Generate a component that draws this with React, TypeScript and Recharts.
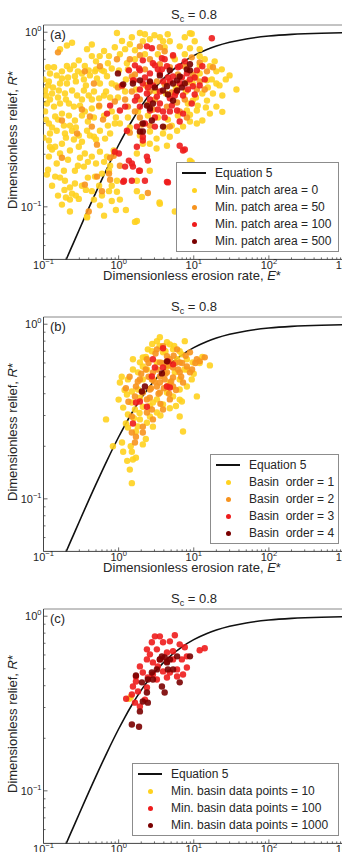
import { ScatterChart, Scatter, XAxis, YAxis } from 'recharts';

type Pt = [number, number]; // [E*, R*]

// Equation 5 (steady-state relief vs erosion rate), sampled along E*
const eqE = [0.15, 0.2, 0.25, 0.3, 0.5, 0.7, 1, 1.2, 1.5, 2, 3, 5, 7, 10, 15, 20, 30, 50, 100, 200, 300, 500, 1000];
const eqR = [0.0374, 0.0498, 0.062, 0.0742, 0.1214, 0.1657, 0.226, 0.262, 0.3102, 0.3774, 0.4765, 0.5968, 0.668, 0.7341, 0.7968, 0.8336, 0.8758, 0.9154, 0.9508, 0.972, 0.98, 0.987, 0.9928];

const xTicks = [0.1, 0.2, 0.3, 0.4, 0.5, 0.6, 0.7, 0.8, 0.9, 1, 2, 3, 4, 5, 6, 7, 8, 9, 10, 20, 30, 40, 50, 60, 70, 80, 90, 100, 200, 300, 400, 500, 600, 700, 800, 900, 1000];
const yTicks = [0.06, 0.07, 0.08, 0.09, 0.1, 0.2, 0.3, 0.4, 0.5, 0.6, 0.7, 0.8, 0.9, 1];

// (a) minimum patch area
const patchArea0: Pt[] = [
  [0.95, 0.99], [1.92, 0.99], [9.4, 0.98], [0.166, 0.8], [0.24, 0.87], [0.38, 0.8], [0.56, 0.73], [37, 0.47], [24, 0.35],
  [9.4, 0.18], [5.6, 0.094], [3.5, 0.106], [1.65, 0.082], [0.38, 0.087], [0.225, 0.11], [0.19, 0.125], [0.122, 0.22],
  [0.205, 0.84], [0.44, 0.85], [1.11, 0.89], [0.295, 0.69], [0.254, 0.646], [0.355, 0.64], [0.205, 0.64], [0.44, 0.73],
  [0.64, 0.78], [0.745, 0.73], [0.122, 0.58], [0.15, 0.566], [0.118, 0.523], [0.176, 0.544], [0.205, 0.509], [0.262, 0.56],
  [0.325, 0.58], [0.4, 0.605], [0.485, 0.597], [0.515, 0.544], [0.6, 0.605], [0.7, 0.56], [0.81, 0.62], [1.01, 0.605],
  [0.105, 0.464], [0.13, 0.446], [0.16, 0.464], [0.193, 0.446], [0.24, 0.464], [0.28, 0.434], [0.345, 0.464], [0.4, 0.434],
  [0.47, 0.458], [0.55, 0.418], [0.64, 0.434], [0.111, 0.391], [0.105, 0.352], [0.138, 0.375], [0.166, 0.391], [0.218, 0.391],
  [0.254, 0.375], [0.306, 0.38], [0.355, 0.352], [0.44, 0.366], [0.55, 0.375], [0.325, 0.333], [0.262, 0.312], [0.218, 0.333],
  [0.176, 0.342], [0.143, 0.329], [0.118, 0.3], [0.15, 0.273], [0.193, 0.263], [0.24, 0.273], [0.295, 0.256], [0.38, 0.273],
  [0.47, 0.252], [0.564, 0.273], [0.66, 0.246], [0.77, 0.263], [0.89, 0.3], [0.118, 0.24], [0.143, 0.221], [0.176, 0.23],
  [0.225, 0.21], [0.295, 0.221], [0.355, 0.202], [0.44, 0.194], [0.564, 0.207], [0.7, 0.194], [0.86, 0.21], [0.118, 0.194],
  [0.15, 0.177], [0.187, 0.161], [0.262, 0.161], [0.345, 0.17], [0.485, 0.149], [0.6, 0.155], [0.745, 0.161], [0.143, 0.149],
  [0.193, 0.141], [0.262, 0.136], [0.55, 0.132], [0.44, 0.123], [0.6, 0.116], [0.745, 0.123], [0.95, 0.141], [0.24, 0.119],
  [0.295, 0.111], [0.38, 0.088], [0.81, 0.108],
  [3.0, 0.961], [8.9, 0.987], [3.9, 0.888], [6.5, 0.83], [8.9, 0.81], [2.1, 0.888], [1.65, 0.788], [12, 0.728], [16.4, 0.638],
  [20, 0.597], [30, 0.566], [24, 0.434], [18, 0.446], [20, 0.375], [16.4, 0.342], [13, 0.312], [11, 0.3], [8.9, 0.308],
  [7.2, 0.288], [6, 0.273], [4.8, 0.252], [3.9, 0.263], [3.2, 0.246], [2.6, 0.23], [2.1, 0.23], [1.75, 0.202], [3.2, 0.216],
  [4.4, 0.224], [8.9, 0.184], [2.6, 0.161], [1.75, 0.141], [1.75, 0.123], [2.04, 0.114], [3.54, 0.104], [6.5, 0.088],
  [1.75, 0.083], [15, 0.406], [20, 0.509], [15, 0.53], [12, 0.581], [9.7, 0.509], [13, 0.446], [9.7, 0.406], [8.1, 0.356],
  [11, 0.356],
  [1.22, 0.8], [1.41, 0.853], [1.65, 0.7], [1.33, 0.613], [2.24, 0.748], [2.6, 0.911], [3.33, 0.748], [4.1, 0.82], [4.8, 0.888],
  [5.6, 0.7], [7.6, 0.748], [10.3, 0.888], [12, 0.8], [14, 0.7], [17.4, 0.537], [15.4, 0.483], [10.7, 0.423], [8.35, 0.391],
  [6.15, 0.333], [4.53, 0.316], [3.33, 0.325], [2.45, 0.333], [1.81, 0.352], [1.33, 0.325], [1.04, 0.3], [0.92, 0.325],
  [0.81, 0.352], [0.98, 0.423], [1.22, 0.458], [1.29, 0.664], [1.04, 0.748], [0.89, 0.82], [0.72, 0.664], [0.81, 0.509],
  [0.68, 0.458], [0.564, 0.509], [0.5, 0.681], [0.64, 0.597], [1.41, 0.285], [1.92, 0.256], [2.61, 0.27], [4.1, 0.285],
  [5.1, 0.292], [8.9, 0.337], [11.3, 0.38], [14.5, 0.371], [22, 0.496], [26.7, 0.537], [19, 0.681], [23.6, 0.613],
  [7.6, 0.936], [3.54, 0.936], [2.24, 0.974], [1.5, 0.936], [4.5, 0.974], [12, 0.646], [10.7, 0.551], [7.86, 0.458],
  [5.78, 0.483], [4.26, 0.446], [3.13, 0.458], [2.31, 0.496], [1.7, 0.47], [1.25, 0.537], [0.92, 0.496], [0.77, 0.423],
  [0.441, 0.412], [0.367, 0.496], [0.325, 0.412], [0.199, 0.412], [0.156, 0.423], [0.122, 0.412], [0.108, 0.434],
  [0.115, 0.496], [0.1, 0.537], [0.134, 0.483], [0.166, 0.509], [0.212, 0.551], [0.27, 0.523], [0.345, 0.537], [0.415, 0.566],
  [0.5, 0.613], [0.287, 0.597], [0.225, 0.613], [0.176, 0.597], [0.138, 0.63], [0.115, 0.63], [0.108, 0.316], [0.13, 0.285],
  [0.156, 0.316], [0.187, 0.292], [0.225, 0.292], [0.27, 0.285], [0.39, 0.308], [0.469, 0.325], [0.64, 0.333], [0.72, 0.292],
  [0.5, 0.243], [0.415, 0.256], [0.325, 0.236], [0.254, 0.243], [0.199, 0.249], [0.122, 0.263], [0.1, 0.249], [0.13, 0.213],
  [0.166, 0.202], [0.212, 0.186], [0.306, 0.191], [0.39, 0.181], [0.5, 0.177], [0.64, 0.181], [0.77, 0.172], [0.287, 0.172],
  [0.39, 0.147], [0.325, 0.132], [0.225, 0.129], [0.166, 0.147], [0.115, 0.163], [0.13, 0.132], [0.156, 0.116], [0.199, 0.113],
  [0.27, 0.116], [0.469, 0.11], [0.564, 0.102], [0.367, 0.125], [0.81, 0.132], [0.95, 0.122], [1.04, 0.11], [1.25, 0.096],
  [0.92, 0.096], [0.64, 0.089], [0.111, 0.153], [0.176, 0.103], [0.225, 0.094],
];
const patchArea50: Pt[] = [
  [0.89, 0.401], [1.11, 0.49], [1.5, 0.558], [0.515, 0.227], [0.77, 0.191], [2.86, 0.361], [1.92, 0.325], [5.12, 0.452],
  [7.6, 0.638], [9.7, 0.573], [11, 0.47], [5.3, 0.728], [3.54, 0.82], [1.92, 0.83], [2.61, 0.7], [3.23, 0.523], [1.92, 0.412],
  [1.33, 0.375], [1.5, 0.458], [2.45, 0.386], [4.4, 0.375], [0.95, 0.7], [6.0, 0.396], [8.1, 0.516], [15, 0.597], [18, 0.63],
  [12, 0.523], [12, 0.672], [4.8, 0.288], [8.1, 0.325], [1.41, 0.266], [0.564, 0.638], [0.325, 0.361], [0.415, 0.329],
  [0.62, 0.316], [0.176, 0.191], [0.156, 0.767], [0.77, 0.143], [0.515, 0.149], [0.355, 0.134], [2.45, 0.12], [0.355, 0.597],
  [0.469, 0.509], [0.55, 0.38], [0.44, 0.288], [0.86, 0.196], [1.04, 0.172], [0.745, 0.155], [0.28, 0.263], [0.176, 0.312],
  [0.6, 0.123], [0.4, 0.094], [2.24, 0.613], [3.54, 0.655], [6.15, 0.573], [4.1, 0.503], [2.61, 0.458], [1.65, 0.573],
  [7.6, 0.412], [4.81, 0.63], [3.04, 0.412], [2.04, 0.296], [1.41, 0.7], [1.92, 0.738], [4.1, 0.778], [9.4, 0.718],
  [14, 0.47], [6.5, 0.352], [1.65, 0.352], [1.22, 0.412], [2.61, 0.292], [0.98, 0.483],
];
const patchArea100: Pt[] = [
  [17.4, 0.924], [2.38, 0.83], [2.77, 0.81], [5.3, 0.738], [3.77, 0.709], [2.1, 0.69], [2.86, 0.664], [4.4, 0.638], [6.5, 0.638],
  [1.92, 0.605], [2.61, 0.581], [3.54, 0.581], [5.3, 0.558], [8.1, 0.581], [11, 0.605], [13, 0.638], [1.55, 0.53], [2.1, 0.509],
  [2.86, 0.496], [3.9, 0.523], [6.5, 0.509], [9.7, 0.49], [12, 0.496], [1.75, 0.428], [2.38, 0.446], [3.23, 0.428],
  [4.81, 0.418], [7.2, 0.434], [1.92, 0.375], [2.61, 0.356], [3.9, 0.352], [6.0, 0.356], [7.2, 0.342], [6.5, 0.308],
  [2.24, 0.3], [3.04, 0.288], [1.75, 0.288], [2.1, 0.24], [1.75, 0.221], [2.45, 0.184], [2.38, 0.194], [1.92, 0.161],
  [2.24, 0.141], [4.4, 0.139], [6.5, 0.224], [7.2, 0.21], [1.5, 0.177], [1.11, 0.496], [0.77, 0.38],
  [0.7, 0.342], [1.04, 0.356], [1.37, 0.184], [1.22, 0.17], [1.18, 0.141], [1.5, 0.141], [1.87, 0.161], [1.22, 0.375],
  [1.65, 0.406], [1.6, 0.53], [1.37, 0.605], [1.87, 0.62], [1.29, 0.273], [1.01, 0.202], [0.89, 0.207], [1.15, 0.139],
  [1.55, 0.17], [4.53, 0.138], [7.6, 0.213], [2.1, 0.252], [3.33, 0.613], [4.53, 0.551], [5.78, 0.452], [8.9, 0.537],
  [3.54, 0.458], [2.61, 0.516], [4.1, 0.7], [7.6, 0.681], [10.3, 0.44], [3.04, 0.325], [4.81, 0.352],
  [2.24, 0.551], [3.04, 0.646], [3.77, 0.613], [4.81, 0.523], [6.15, 0.63], [8.35, 0.47], [2.61, 0.412], [3.54, 0.391],
  [5.12, 0.38], [1.92, 0.47], [1.65, 0.646], [3.33, 0.361], [4.1, 0.325], [2.45, 0.483], [5.6, 0.434], [6.95, 0.551],
  [10.3, 0.551], [14, 0.537], [9.4, 0.391],
];
const patchArea500: Pt[] = [
  [2.61, 0.523], [1.92, 0.53], [4.81, 0.605], [6.5, 0.558], [5.3, 0.509], [4.4, 0.49], [3.9, 0.464], [6.0, 0.464], [7.6, 0.509],
  [8.9, 0.605], [2.86, 0.391], [2.38, 0.38], [2.61, 0.366], [5.3, 0.406], [2.1, 0.3], [2.77, 0.312], [3.9, 0.288], [2.1, 0.27],
  [6.0, 0.53], [1.55, 0.509], [1.15, 0.503], [1.92, 0.27], [8.1, 0.613], [8.9, 0.655], [0.98, 0.581], [3.54, 0.566],
  [3.04, 0.483], [4.53, 0.44], [6.95, 0.483],
];

// (b) basin order
const basinOrder1: Pt[] = [
  [0.68, 0.285], [0.84, 0.2], [1.11, 0.21], [1.15, 0.186], [1.5, 0.186], [1.55, 0.168], [1.41, 0.147], [1.5, 0.123], [1.7, 0.172],
  [2.1, 0.205], [1.33, 0.256], [1.15, 0.333], [1.33, 0.304], [1.5, 0.356], [1.04, 0.464], [1.33, 0.483], [1.81, 0.53],
  [1.55, 0.63], [2.1, 0.646], [2.38, 0.551], [3.23, 0.8], [3.54, 0.842], [4.4, 0.788], [7.6, 0.8], [5.3, 0.718], [6.95, 0.672],
  [8.1, 0.63], [9.7, 0.605], [16.4, 0.581], [11, 0.386], [6.95, 0.361], [6.5, 0.296], [7.2, 0.243], [3.23, 0.371], [3.9, 0.347],
  [2.61, 0.296], [3.23, 0.312], [2.1, 0.337], [2.86, 0.356], [1.92, 0.285], [2.38, 0.273], [1.7, 0.243], [2.86, 0.259],
  [5.3, 0.386], [4.4, 0.406], [2.1, 0.483], [2.86, 0.483], [3.23, 0.605], [4.4, 0.573], [5.6, 0.53], [6.5, 0.483], [4.81, 0.464],
  [3.9, 0.69], [2.77, 0.7], [2.1, 0.573], [1.5, 0.412], [1.81, 0.423], [1.29, 0.396], [1.65, 0.325], [1.92, 0.38], [1.55, 0.551],
  [1.92, 0.605], [2.45, 0.718], [4.81, 0.767], [6.0, 0.63], [8.1, 0.551], [9.4, 0.483], [8.1, 0.44], [6.5, 0.423],
  [1.0, 0.37], [1.2, 0.42], [1.1, 0.5], [1.25, 0.27], [1.6, 0.29], [1.8, 0.26], [2.3, 0.22], [1.45, 0.2], [1.3, 0.165],
  [1.9, 0.31], [2.6, 0.34], [3.6, 0.3], [4.8, 0.33], [5.8, 0.34], [6.5, 0.37], [3.5, 0.75], [4.2, 0.7], [5.5, 0.75], [6.5, 0.7],
  [2.8, 0.77], [2.3, 0.65], [7.5, 0.55], [10, 0.52], [12, 0.6], [13, 0.65],
];
const basinOrder2: Pt[] = [
  [1.5, 0.24], [1.65, 0.21], [2.1, 0.24], [2.38, 0.312], [2.77, 0.325], [3.54, 0.406], [4.4, 0.44], [5.3, 0.44], [6.5, 0.53],
  [8.1, 0.573], [11, 0.63], [12, 0.613], [14, 0.646], [8.9, 0.69], [6.5, 0.605], [5.3, 0.566], [4.4, 0.53], [3.54, 0.503],
  [2.86, 0.53], [3.23, 0.44], [2.61, 0.423], [2.1, 0.406], [2.38, 0.371], [1.7, 0.44], [1.65, 0.386], [1.92, 0.483],
  [2.38, 0.63], [3.54, 0.605], [4.81, 0.63], [6.0, 0.718], [4.4, 0.655], [3.23, 0.718], [3.9, 0.748], [4.81, 0.371],
  [3.9, 0.325], [2.86, 0.285], [2.1, 0.259], [1.7, 0.227], [1.5, 0.296], [7.2, 0.464], [8.9, 0.53], [3.54, 0.464],
  [2.77, 0.483], [5.3, 0.496], [4.1, 0.483],
  [2.5, 0.5], [3.0, 0.47], [3.3, 0.55], [3.8, 0.6], [4.2, 0.52], [4.6, 0.58], [5.0, 0.47], [5.7, 0.6], [6.2, 0.55], [7.0, 0.6],
  [2.7, 0.43], [3.4, 0.4], [4.0, 0.43], [5.8, 0.42], [6.8, 0.5], [2.3, 0.55], [2.0, 0.52], [1.8, 0.47], [2.6, 0.38], [3.6, 0.35],
  [4.7, 0.4], [5.4, 0.66], [3.1, 0.68], [2.5, 0.6], [7.8, 0.66], [9.5, 0.55], [10.5, 0.6], [1.35, 0.36], [1.25, 0.43], [1.4, 0.5],
];
const basinOrder3: Pt[] = [
  [3.9, 0.728], [3.04, 0.566], [2.77, 0.503], [4.53, 0.613], [3.9, 0.566], [4.4, 0.44], [4.81, 0.434], [1.7, 0.356],
  [1.55, 0.27], [1.92, 0.361], [2.38, 0.337], [2.86, 0.63], [5.3, 0.589],
];
const basinOrder4: Pt[] = [[2.24, 0.44], [3.77, 0.523], [4.4, 0.613], [2.04, 0.412]];

// (c) minimum number of basin data points
const basinPoints10: Pt[] = [[1.38, 0.337], [1.45, 0.345]];
const basinPoints100: Pt[] = [
  [3.04, 0.767], [3.54, 0.767], [5.6, 0.778], [3.9, 0.709], [4.81, 0.718], [6.5, 0.69], [7.6, 0.664], [12, 0.638], [14, 0.655],
  [8.1, 0.589], [2.38, 0.646], [2.61, 0.605], [3.23, 0.646], [4.4, 0.62], [5.3, 0.63], [2.38, 0.566], [2.86, 0.544],
  [3.54, 0.566], [5.3, 0.566], [6.95, 0.566], [8.1, 0.509], [6.0, 0.496], [7.2, 0.464], [1.92, 0.516], [1.7, 0.452],
  [2.1, 0.476], [1.55, 0.396], [1.81, 0.371], [2.38, 0.391], [2.86, 0.464], [3.9, 0.483], [4.4, 0.446], [3.23, 0.434],
  [2.45, 0.446], [2.24, 0.333], [1.5, 0.356], [1.26, 0.337], [1.65, 0.32], [1.92, 0.304], [6.0, 0.452], [4.81, 0.476],
  [3.33, 0.516], [4.4, 0.551], [1.7, 0.423], [2.77, 0.709],
];
const basinPoints1000: Pt[] = [
  [1.7, 0.458], [2.04, 0.418], [2.45, 0.434], [3.23, 0.496], [3.54, 0.566], [4.4, 0.544], [4.81, 0.566], [6.0, 0.589],
  [8.9, 0.589], [4.53, 0.496], [2.86, 0.434], [3.77, 0.396], [4.1, 0.366], [6.5, 0.418], [1.5, 0.24], [1.87, 0.233],
  [1.92, 0.285], [2.1, 0.325], [2.45, 0.32], [2.38, 0.366], [2.77, 0.476], [5.3, 0.496], [3.77, 0.589], [4.1, 0.581],
];

const YELLOW = '#FFD21F';
const ORANGE = '#F7931E';
const RED = '#EE1C1C';
const DARK = '#7A0000';

const AXIS = '#444';
const TEXT = '#262626';
const FONT = '"Liberation Sans", Arial, sans-serif';

const PLOT_LEFT = 43.5;
const CHART_W = 350;
const CHART_H = 292;

type Series = { name: string; color: string; points: Pt[] };

const curve = eqE.map((E, i) => ({ E, R: eqR[i] }));

const isMajor = (v: number) => Math.abs(Math.log10(v) - Math.round(Math.log10(v))) < 1e-6;
const expText = (v: number) => {
  const e = Math.round(Math.log10(v));
  return e < 0 ? '\u2212' + -e : String(e);
};

function BottomTick(props: any) {
  const { x, y, payload } = props;
  const major = isMajor(payload.value);
  return (
    <g>
      <line x1={x} x2={x} y1={y} y2={y - (major ? 4 : 2)} stroke={AXIS} strokeWidth={0.8} />
      {major && (
        <text x={x} y={y + 10} textAnchor="middle" fontSize={11} fill={TEXT} fontFamily={FONT}>
          10<tspan dy={-5} fontSize={7.5}>{expText(payload.value)}</tspan>
        </text>
      )}
    </g>
  );
}

function TopTick(props: any) {
  const { x, y, payload } = props;
  const major = isMajor(payload.value);
  return <line x1={x} x2={x} y1={y} y2={y + (major ? 4 : 2)} stroke="#777" strokeWidth={0.8} />;
}

function LeftTick(props: any) {
  const { x, y, payload } = props;
  const major = isMajor(payload.value);
  return (
    <g>
      <line x1={x} x2={x + (major ? 4 : 2)} y1={y} y2={y} stroke={AXIS} strokeWidth={0.8} />
      {major && (
        <text x={x - 2} y={y + 4} textAnchor="end" fontSize={11} fill={TEXT} fontFamily={FONT}>
          10<tspan dy={-5} fontSize={7.5}>{expText(payload.value)}</tspan>
        </text>
      )}
    </g>
  );
}

const dot = (color: string) => (p: any) => <circle cx={p.cx} cy={p.cy} r={3.2} fill={color} fillOpacity={0.9} />;

function Legend({ series, left, width }: { series: Series[]; left: number; width: number }) {
  const rows = series.length + 1;
  const height = rows * 17 + 5;
  return (
    <div
      style={{
        position: 'absolute', left, top: 252 - height, width, height, boxSizing: 'border-box',
        border: '1px solid #8c8c8c', background: '#fff', fontFamily: FONT, fontSize: 12, color: TEXT,
      }}
    >
      {[{ name: 'Equation 5', color: '' }, ...series].map((s, i) => {
        const cy = 10 + i * 17;
        return (
          <div key={s.name}>
            {i === 0 ? (
              <div style={{ position: 'absolute', left: 5, width: 24, top: cy - 1, height: 1.6, background: '#111' }} />
            ) : (
              <div
                style={{
                  position: 'absolute', left: 14.5, top: cy - 2.5, width: 5, height: 5,
                  borderRadius: '50%', background: s.color,
                }}
              />
            )}
            <div style={{ position: 'absolute', left: 38, top: cy - 7, lineHeight: '14px', whiteSpace: 'pre' }}>{s.name}</div>
          </div>
        );
      })}
    </div>
  );
}

function Panel({ top, letter, series, legendLeft, xLabel = true }: {
  top: number; letter: string; series: Series[]; legendLeft: number; xLabel?: boolean;
}) {
  return (
    <div style={{ position: 'absolute', left: 0, top, width: CHART_W, height: CHART_H }}>
      <ScatterChart width={CHART_W} height={CHART_H} margin={{ top: 24, right: 6, bottom: 31.6, left: 0 }}>
        <XAxis
          dataKey="E" type="number" scale="log" domain={[0.1, 1000]} allowDataOverflow
          ticks={xTicks} interval={0} height={1} tickSize={0} tickMargin={0}
          axisLine={{ stroke: AXIS, strokeWidth: 1 }} tickLine={false} tick={<BottomTick />}
        />
        <XAxis
          xAxisId="top" orientation="top" type="number" scale="log" domain={[0.1, 1000]} allowDataOverflow
          ticks={xTicks} interval={0} height={1} tickSize={0} tickMargin={0}
          axisLine={{ stroke: '#888', strokeWidth: 1 }} tickLine={false} tick={<TopTick />}
        />
        <YAxis
          dataKey="R" type="number" scale="log" domain={[0.05, 1.1]} allowDataOverflow
          ticks={yTicks} interval={0} width={PLOT_LEFT} tickSize={0} tickMargin={0}
          axisLine={{ stroke: AXIS, strokeWidth: 1 }} tickLine={false} tick={<LeftTick />}
        />
        <Scatter
          data={curve} fill="#111" line={{ stroke: '#111', strokeWidth: 1.6 }} lineJointType="monotoneX"
          shape={() => <g />} isAnimationActive={false} legendType="none"
        />
        {series.map((s) => (
          <Scatter
            key={s.name} data={s.points.map(([E, R]) => ({ E, R }))} fill={s.color}
            shape={dot(s.color)} isAnimationActive={false}
          />
        ))}
      </ScatterChart>

      <div
        style={{
          position: 'absolute', left: 194, top: 7, transform: 'translateX(-50%)', whiteSpace: 'nowrap',
          fontFamily: FONT, fontSize: 13, lineHeight: '16px', color: TEXT,
        }}
      >
        S<span style={{ fontSize: 9, position: 'relative', top: 3 }}>c</span> = 0.8
      </div>
      <div style={{ position: 'absolute', left: 50, top: 28, fontFamily: FONT, fontSize: 13, lineHeight: '14px', color: TEXT }}>
        ({letter})
      </div>
      {xLabel && (
        <div
          style={{
            position: 'absolute', left: 192, top: 268, transform: 'translateX(-50%)', whiteSpace: 'nowrap',
            fontFamily: FONT, fontSize: 13, lineHeight: '16px', color: TEXT,
          }}
        >
          Dimensionless erosion rate, <i>E</i>*
        </div>
      )}
      <div
        style={{
          position: 'absolute', left: 13, top: 140, transform: 'translate(-50%, -50%) rotate(-90deg)',
          whiteSpace: 'nowrap', fontFamily: FONT, fontSize: 13, lineHeight: '16px', color: TEXT,
        }}
      >
        Dimensionless relief, <i>R</i>*
      </div>
      <Legend series={series} left={legendLeft} width={339 - legendLeft} />
    </div>
  );
}

export default function App() {
  return (
    <div style={{ position: 'absolute', left: 0, top: 0, width: 342, height: 852, overflow: 'hidden', background: '#fff' }}>
      <Panel
        top={0}
        letter="a"
        legendLeft={176}
        series={[
          { name: 'Min. patch area = 0', color: YELLOW, points: patchArea0 },
          { name: 'Min. patch area = 50', color: ORANGE, points: patchArea50 },
          { name: 'Min. patch area = 100', color: RED, points: patchArea100 },
          { name: 'Min. patch area = 500', color: DARK, points: patchArea500 },
        ]}
      />
      <Panel
        top={292}
        letter="b"
        legendLeft={210}
        series={[
          { name: 'Basin  order = 1', color: YELLOW, points: basinOrder1 },
          { name: 'Basin  order = 2', color: ORANGE, points: basinOrder2 },
          { name: 'Basin  order = 3', color: RED, points: basinOrder3 },
          { name: 'Basin  order = 4', color: DARK, points: basinOrder4 },
        ]}
      />
      <Panel
        top={584}
        letter="c"
        legendLeft={132}
        xLabel={false}
        series={[
          { name: 'Min. basin data points = 10', color: YELLOW, points: basinPoints10 },
          { name: 'Min. basin data points = 100', color: RED, points: basinPoints100 },
          { name: 'Min. basin data points = 1000', color: DARK, points: basinPoints1000 },
        ]}
      />
    </div>
  );
}
